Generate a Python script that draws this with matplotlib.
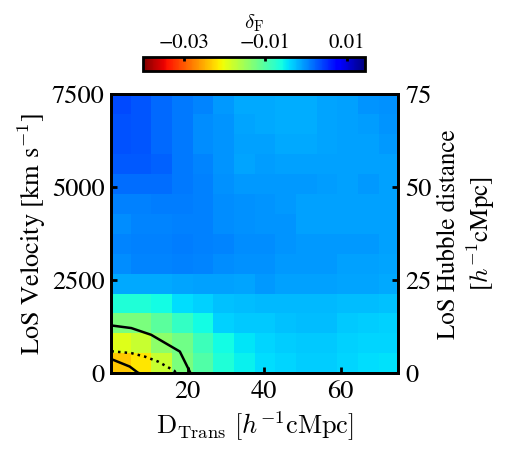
import numpy as np
import matplotlib
matplotlib.use("Agg")
import matplotlib.pyplot as plt

plt.rcParams['font.family'] = ['STIXGeneral', 'DejaVu Serif']
plt.rcParams['mathtext.fontset'] = 'cm'

# ---- data (delta_F per cell), rows from bottom (v=0) to top (v=7500) ----
row00 = [-0.0236, -0.0218, -0.0178, -0.0126, -0.0099, -0.0066, -0.0051, -0.0041, -0.0038, -0.0033, -0.0033, -0.0038, -0.0041, -0.0043]
row01 = [-0.0192, -0.0178, -0.0139, -0.0119, -0.0086, -0.0059, -0.0046, -0.0038, -0.0033, -0.0030, -0.0030, -0.0035, -0.0038, -0.0038]
row02 = [-0.0126, -0.0126, -0.0106, -0.0079, -0.0059, -0.0035, -0.0030, -0.0030, -0.0027, -0.0025, -0.0025, -0.0030, -0.0033, -0.0035]
row03 = [-0.0066, -0.0066, -0.0059, -0.0041, -0.0035, -0.0027, -0.0025, -0.0022, -0.0022, -0.0022, -0.0022, -0.0025, -0.0025, -0.0027]
row04 = [-0.0014, -0.0014, -0.0014, -0.0011, -0.0009, -0.0009, -0.0011, -0.0006, -0.0009, -0.0009, -0.0009, -0.0011, -0.0011, -0.0014]
row05 = [0.0002, 0.0005, 0.0005, 0.0008, 0.0005, 0.0002, -0.0000, -0.0000, -0.0006, -0.0006, -0.0006, -0.0009, -0.0009, -0.0011]
row06 = [0.0005, 0.0008, 0.0008, 0.0010, 0.0008, 0.0005, 0.0002, 0.0002, -0.0003, -0.0006, -0.0006, -0.0006, -0.0006, -0.0009]
row07 = [0.0002, 0.0005, 0.0005, 0.0008, 0.0008, 0.0002, -0.0000, -0.0002, -0.0003, -0.0009, -0.0009, -0.0009, -0.0009, -0.0009]
row08 = [0.0008, 0.0008, 0.0010, 0.0010, 0.0008, 0.0002, -0.0000, -0.0002, -0.0006, -0.0009, -0.0009, -0.0009, -0.0009, -0.0009]
row09 = [0.0018, 0.0018, 0.0018, 0.0013, 0.0008, -0.0001, -0.0006, -0.0006, -0.0006, -0.0006, -0.0007, -0.0009, -0.0006, -0.0009]
row10 = [0.0029, 0.0029, 0.0024, 0.0013, 0.0005, -0.0003, -0.0011, -0.0007, -0.0010, -0.0010, -0.0009, -0.0009, -0.0009, -0.0009]
row11 = [0.0034, 0.0032, 0.0021, 0.0013, 0.0002, -0.0003, -0.0009, -0.0009, -0.0013, -0.0013, -0.0011, -0.0009, -0.0009, -0.0006]
row12 = [0.0034, 0.0032, 0.0021, 0.0013, 0.0002, -0.0003, -0.0011, -0.0013, -0.0015, -0.0015, -0.0011, -0.0009, -0.0008, -0.0003]
row13 = [0.0037, 0.0032, 0.0021, 0.0013, 0.0005, -0.0006, -0.0014, -0.0014, -0.0015, -0.0015, -0.0011, -0.0009, -0.0003, -0.0000]

# contour lines (D_trans, velocity)
outer_x = [0.0, 5.2, 10.4, 17.9, 20.5, 20.7]
outer_y = [1284, 1214, 1033, 583, 43, 0]
dotted_x = [0.0, 5.2, 8.7, 12.2, 16.5, 16.9]
dotted_y = [590, 540, 448, 313, 62, 0]
inner_x = [0.0, 4.8, 6.9, 7.3]
inner_y = [378, 178, 16, 0]

x_ticks = [20, 40, 60]
v_ticks = [0, 2500, 5000, 7500]
d_ticks = [0, 25, 50, 75]
cb_ticks = [-0.03, -0.01, 0.01]
vmin, vmax = -0.04, 0.0145

grid = np.array([row00, row01, row02, row03, row04, row05, row06,
                 row07, row08, row09, row10, row11, row12, row13])
x_edges = np.linspace(-0.4, 75.3, grid.shape[1] + 1)
y_edges = np.linspace(0, 7500, grid.shape[0] + 1)

fig = plt.figure(figsize=(5.11, 4.54), dpi=100)
ax = fig.add_axes([0.218, 0.178, 0.561, 0.614])
mesh = ax.pcolormesh(x_edges, y_edges, grid, cmap='jet_r', vmin=vmin, vmax=vmax)
ax.plot(outer_x, outer_y, color='black', lw=1.8, solid_capstyle='butt')
ax.plot(inner_x, inner_y, color='black', lw=1.8, solid_capstyle='butt')
ax.plot(dotted_x, dotted_y, color='black', lw=1.8, ls=':')
ax.set_xlim(0, 75)
ax.set_ylim(0, 7500)
ax.set_xticks(x_ticks)
ax.set_yticks(v_ticks)
ax.tick_params(direction='in', length=4, width=2, labelsize=19, pad=5)
ax.set_xlabel(r'$\rm D_{Trans}\ [\mathit{h}^{-1}cMpc]$', fontsize=19, labelpad=4)
ax.set_ylabel(r'LoS Velocity [km s$^{-1}$]', fontsize=19, labelpad=3)
for s in ax.spines.values():
    s.set_linewidth(2)

ax2 = ax.twinx()
ax2.set_ylim(0, 75)
ax2.set_yticks(d_ticks)
ax2.tick_params(direction='in', length=4, width=2, labelsize=19, pad=5)
ax2.set_ylabel('LoS Hubble distance\n' + r'[$h^{-1}$cMpc]', fontsize=18,
               multialignment='center', labelpad=4)
for s in ax2.spines.values():
    s.set_linewidth(2)

cax = fig.add_axes([0.280, 0.844, 0.434, 0.031])
cb = fig.colorbar(mesh, cax=cax, orientation='horizontal', ticks=cb_ticks)
cb.outline.set_linewidth(2)
cax.xaxis.set_ticks_position('top')
cax.xaxis.set_label_position('top')
cax.tick_params(direction='in', length=3, width=2, labelsize=15, pad=3)
cax.set_xticklabels(['\u22120.03', '\u22120.01', '0.01'])
cb.set_label(r'$\delta_{\rm F}$', fontsize=15, labelpad=3)

fig.savefig('out.png', dpi=100)
